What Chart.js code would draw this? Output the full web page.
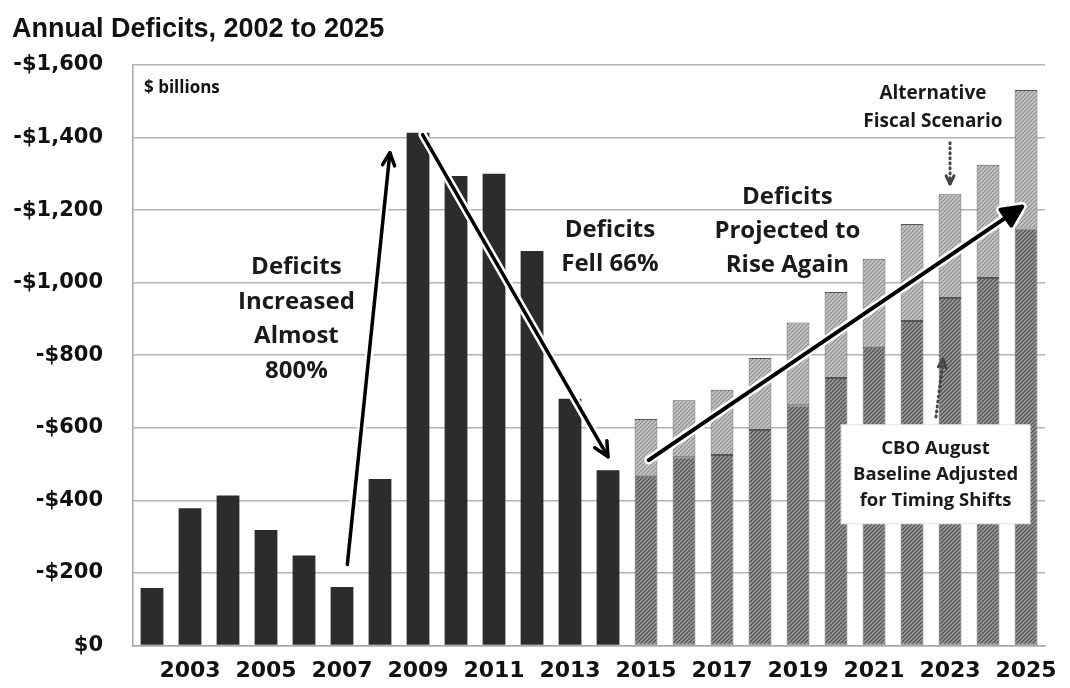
<!DOCTYPE html>
<html>
<head>
<meta charset="utf-8">
<title>Annual Deficits, 2002 to 2025</title>
<script src="https://cdn.jsdelivr.net/npm/chart.js@4.4.1/dist/chart.umd.min.js"></script>
<style>
  body { margin: 0; background: #fff; }
  #wrap { width: 1070px; height: 688px; }
</style>
</head>
<body>
<div id="wrap"><canvas id="deficits" width="1070" height="688"></canvas></div>
<script>
// $ billions, deficits shown as positive amounts
const years = ['2002', '2003', '2004', '2005', '2006', '2007', '2008', '2009', '2010', '2011', '2012', '2013',
               '2014', '2015', '2016', '2017', '2018', '2019', '2020', '2021', '2022', '2023', '2024', '2025'];
const actualDeficits = [158, 378, 413, 318, 248, 161, 459, 1413, 1294, 1300, 1087, 680, 483];
const cboBaseline = [468, 519, 525, 594, 662, 737, 823, 894, 958, 1013, 1149];
const altScenario = [624, 676, 705, 792, 890, 974, 1066, 1162, 1244, 1325, 1531];
const yTicks = [0, 200, 400, 600, 800, 1000, 1200, 1400, 1600];

const nActual = actualDeficits.length;
const pad = new Array(nActual).fill(null);
const actualData = actualDeficits.concat(new Array(years.length - nActual).fill(null));
const baselineData = pad.concat(cboBaseline);
const altData = pad.concat(altScenario.map(function(v, i) { return [cboBaseline[i], v]; }));

function hatch(bg, fg) {
    var c = document.createElement('canvas');
    c.width = 4; c.height = 4;
    var g = c.getContext('2d');
    g.fillStyle = bg;
    g.fillRect(0, 0, 4, 4);
    g.strokeStyle = fg;
    g.lineWidth = 1.1;
    g.beginPath();
    g.moveTo(0, 4); g.lineTo(4, 0);
    g.moveTo(-1, 1); g.lineTo(1, -1);
    g.moveTo(3, 5); g.lineTo(5, 3);
    g.stroke();
    return g.createPattern(c, 'repeat');
}

function money(v) {
    return v === 0 ? '$0' : '-$' + v.toLocaleString('en-US');
}

function drawArrow(ctx, x1, y1, x2, y2, o) {
    var a = Math.atan2(y2 - y1, x2 - x1);
    var L = o.head;
    ctx.save();
    ctx.lineCap = 'round';
    ctx.lineJoin = 'round';
    var passes = o.halo ? [['#fff', o.width + 5], [o.color, o.width]] : [[o.color, o.width]];
    passes.forEach(function(p) {
        ctx.strokeStyle = p[0];
        ctx.fillStyle = p[0];
        ctx.lineWidth = p[1];
        ctx.setLineDash(o.dash && p[0] !== '#fff' ? o.dash : []);
        ctx.beginPath();
        ctx.moveTo(x1, y1);
        ctx.lineTo(x2 - Math.cos(a) * (o.solid ? L * 0.6 : 0), y2 - Math.sin(a) * (o.solid ? L * 0.6 : 0));
        ctx.stroke();
        ctx.setLineDash([]);
        ctx.beginPath();
        ctx.moveTo(x2 - L * Math.cos(a - 0.45), y2 - L * Math.sin(a - 0.45));
        ctx.lineTo(x2, y2);
        ctx.lineTo(x2 - L * Math.cos(a + 0.45), y2 - L * Math.sin(a + 0.45));
        if (o.solid) {
            ctx.closePath();
            ctx.fill();
        }
        ctx.stroke();
    });
    ctx.restore();
}

// arrows and callouts, positioned by category index and $ value
const arrows = [
    {from: [5.14, 223], to: [6.26, 1358], head: 14, width: 3.5, halo: true},
    {from: [7.12, 1408], to: [12.0, 520], head: 16, width: 3.5, halo: true},
    {from: [13.07, 511], to: [22.9, 1210], head: 22, width: 4, halo: true, solid: true},
    {from: [21.0, 1386], to: [21.0, 1272], head: 9, width: 3, dash: [1, 4], color: '#444'},
    {from: [20.63, 630], to: [20.82, 789], head: 9, width: 3, dash: [1, 4], color: '#444'}
];
const callouts = [
    {lines: ['Deficits', 'Increased', 'Almost', '800%'], at: [3.8, 1042], step: 34.5, font: 'bold 24px "Open Sans"'},
    {lines: ['Deficits', 'Fell 66%'], at: [12.05, 1144], step: 34, font: 'bold 24px "Open Sans"'},
    {lines: ['Deficits', 'Projected to', 'Rise Again'], at: [16.72, 1237], step: 34, font: 'bold 24px "Open Sans"'},
    {lines: ['Alternative', 'Fiscal Scenario'], at: [20.55, 1520], step: 28, font: 'bold 19px "Open Sans"'},
    {lines: ['CBO August', 'Baseline Adjusted', 'for Timing Shifts'], at: [20.62, 542], step: 26,
     font: 'bold 18.5px "Open Sans"', box: {w: 189, h: 99, dy: 24}}
];

const notesPlugin = {
    id: 'notes',
    afterDraw: function(chart) {
        var ctx = chart.ctx, xs = chart.scales.x, ys = chart.scales.y, area = chart.chartArea;
        var step = xs.getPixelForValue(1) - xs.getPixelForValue(0);
        var px = function(i) { return xs.getPixelForValue(0) + i * step; };
        var py = function(v) { return ys.getPixelForValue(v); };

        ctx.save();
        ctx.fillStyle = '#111';
        ctx.font = 'bold 27px "Liberation Sans"';
        ctx.textBaseline = 'alphabetic';
        ctx.textAlign = 'left';
        ctx.fillText('Annual Deficits, 2002 to 2025', 12, 37);
        ctx.font = 'bold 17px "Open Sans"';
        ctx.fillText('$ billions', area.left + 11, area.top + 28);

        callouts.forEach(function(c) {
            var cx = px(c.at[0]), cy = py(c.at[1]);
            if (c.box) {
                var bx = cx - c.box.w / 2, by = cy - c.box.dy;
                ctx.fillStyle = '#fff';
                ctx.fillRect(bx, by, c.box.w, c.box.h);
                ctx.strokeStyle = '#e2e2e2';
                ctx.lineWidth = 1;
                ctx.strokeRect(bx, by, c.box.w, c.box.h);
            }
            ctx.fillStyle = '#1a1a1a';
            ctx.font = c.font;
            ctx.textAlign = 'center';
            ctx.textBaseline = 'middle';
            c.lines.forEach(function(t, k) { ctx.fillText(t, cx, cy + k * c.step); });
        });

        arrows.forEach(function(a) {
            drawArrow(ctx, px(a.from[0]), py(a.from[1]), px(a.to[0]), py(a.to[1]), {
                head: a.head, width: a.width, halo: a.halo, solid: a.solid,
                dash: a.dash, color: a.color || '#000'
            });
        });
        ctx.restore();
    }
};

const ctx = document.getElementById('deficits').getContext('2d');
new Chart(ctx, {
    type: 'bar',
    data: {
        labels: years,
        datasets: [
            {label: 'Actual', data: actualData, backgroundColor: '#2c2c2c', borderWidth: 0, stack: 'all'},
            {label: 'CBO August Baseline', data: baselineData, backgroundColor: hatch('#9a9a9a', '#474747'),
             borderColor: '#555', borderWidth: 1, borderSkipped: false, stack: 'all'},
            {label: 'Alternative Fiscal Scenario', data: altData, backgroundColor: hatch('#c8c8c8', '#8a8a8a'),
             borderColor: '#555', borderWidth: 1, borderSkipped: false, stack: 'all'}
        ]
    },
    options: {
        responsive: false,
        animation: false,
        layout: {padding: {top: 65, right: 17, bottom: 0, left: 0}},
        datasets: {bar: {barPercentage: 0.6, categoryPercentage: 1}},
        plugins: {legend: {display: false}, tooltip: {enabled: false}, title: {display: false}},
        scales: {
            x: {
                stacked: true,
                grid: {display: false, drawTicks: false},
                border: {display: true, color: '#a8a8a8', width: 1.5},
                afterFit: function(s) { s.height = 41; },
                ticks: {
                    autoSkip: false, maxRotation: 0, padding: 13, color: '#111',
                    font: {family: 'DejaVu Sans', weight: 'bold', size: 22},
                    callback: function(v, i) { return i % 2 === 1 ? years[i] : ''; }
                }
            },
            y: {
                stacked: false,
                min: yTicks[0], max: yTicks[yTicks.length - 1],
                afterFit: function(s) { s.width = 133; },
                afterBuildTicks: function(s) { s.ticks = yTicks.map(function(v) { return {value: v}; }); },
                grid: {color: '#b4b4b4', lineWidth: 1.5, drawTicks: false},
                border: {display: true, color: '#a8a8a8', width: 1.5},
                ticks: {
                    padding: 30, color: '#111',
                    font: {family: 'DejaVu Sans', weight: 'bold', size: 21},
                    callback: function(v) { return money(v); }
                }
            }
        }
    },
    plugins: [notesPlugin]
});
</script>
</body>
</html>
